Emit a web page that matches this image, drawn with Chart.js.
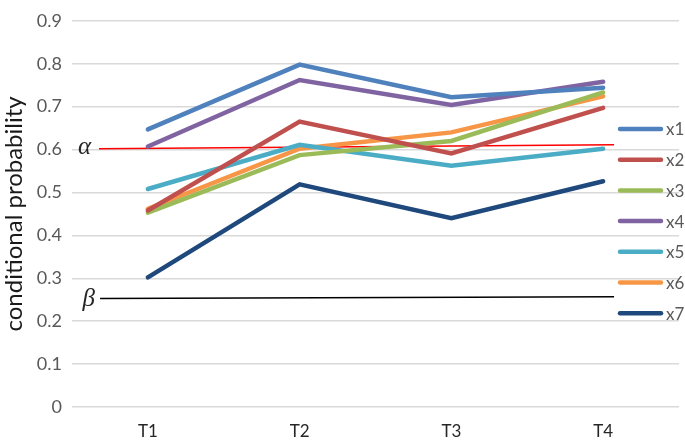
<!DOCTYPE html>
<html>
<head>
<meta charset="utf-8">
<script src="https://cdn.jsdelivr.net/npm/chart.js@4.4.1/dist/chart.umd.min.js"></script>
<style>
html,body{margin:0;padding:0;background:#fff;}
#wrap{width:685px;height:440px;position:relative;}
</style>
</head>
<body>
<div id="wrap"><canvas id="c" width="685" height="440"></canvas></div>
<script>
const categories = ['T1', 'T2', 'T3', 'T4'];
const seriesNames = ['x1', 'x2', 'x3', 'x4', 'x5', 'x6', 'x7'];
const x1 = [0.647, 0.798, 0.722, 0.744];
const x2 = [0.458, 0.665, 0.591, 0.697];
const x3 = [0.453, 0.587, 0.620, 0.733];
const x4 = [0.607, 0.762, 0.704, 0.758];
const x5 = [0.508, 0.611, 0.562, 0.602];
const x6 = [0.462, 0.602, 0.640, 0.724];
const x7 = [0.302, 0.519, 0.440, 0.526];
const yTicks = [0, 0.1, 0.2, 0.3, 0.4, 0.5, 0.6, 0.7, 0.8, 0.9];
// threshold lines (position along category index, value)
const alphaX = [-0.322, 3.072];
const alphaY = [0.602, 0.611];
const betaX = [-0.315, 3.072];
const betaY = [0.253, 0.257];
const thresholdLabels = ['\u03B1', '\u03B2'];

const colors = ['#4F81BD', '#C0504D', '#9BBB59', '#8064A2', '#4BACC6', '#F79646', '#1F497D'];
const allSeries = [x1, x2, x3, x4, x5, x6, x7];

const datasets = allSeries.map((d, i) => ({
  label: seriesNames[i],
  data: d,
  borderColor: colors[i],
  backgroundColor: colors[i],
  borderWidth: 4.5,
  pointRadius: 0,
  pointHoverRadius: 0,
  tension: 0,
  fill: false,
  xAxisID: 'x',
  borderCapStyle: 'round'
}));
datasets.push({
  label: 'alpha',
  data: alphaX.map((x, i) => ({x: x, y: alphaY[i]})),
  borderColor: '#FF0000',
  borderWidth: 1.5,
  pointRadius: 0,
  xAxisID: 'x2',
  fill: false
});
datasets.push({
  label: 'beta',
  data: betaX.map((x, i) => ({x: x, y: betaY[i]})),
  borderColor: '#000000',
  borderWidth: 1.5,
  pointRadius: 0,
  xAxisID: 'x2',
  fill: false
});

const customLegend = {
  id: 'customLegend',
  afterDraw(chart) {
    const ctx = chart.ctx;
    ctx.save();
    ctx.font = '17px Lato';
    ctx.textBaseline = 'middle';
    ctx.textAlign = 'left';
    for (let i = 0; i < seriesNames.length; i++) {
      const y = 129 + i * 30.7;
      ctx.strokeStyle = colors[i];
      ctx.lineWidth = 4.5;
      ctx.lineCap = 'round';
      ctx.beginPath();
      ctx.moveTo(620, y);
      ctx.lineTo(661, y);
      ctx.stroke();
      ctx.fillStyle = '#595959';
      ctx.fillText(seriesNames[i], 666, y + 1);
    }
    // threshold labels
    const xs = chart.scales.x2, ys = chart.scales.y;
    ctx.font = 'italic 25px "Liberation Serif"';
    ctx.fillStyle = '#262626';
    ctx.textAlign = 'right';
    ctx.fillText(thresholdLabels[0], xs.getPixelForValue(alphaX[0]) - 8, ys.getPixelForValue(alphaY[0]) - 1);
    ctx.fillText(thresholdLabels[1], xs.getPixelForValue(betaX[0]) - 5, ys.getPixelForValue(betaY[0]) + 1);
    ctx.restore();
  }
};

new Chart(document.getElementById('c'), {
  type: 'line',
  data: { labels: categories, datasets: datasets },
  plugins: [customLegend],
  options: {
    responsive: false,
    animation: false,
    events: [],
    layout: { padding: { top: 8, right: 6, left: 0, bottom: 0 } },
    plugins: { legend: { display: false }, tooltip: { enabled: false } },
    scales: {
      x: {
        type: 'category',
        offset: true,
        grid: { display: false, drawTicks: false },
        border: { display: false },
        ticks: { color: '#262626', font: { family: 'Lato', size: 17 }, padding: 14 },
        afterFit(s) { s.height = 33; }
      },
      x2: {
        type: 'linear',
        display: false,
        min: -0.5,
        max: 3.5
      },
      y: {
        min: 0,
        max: 0.9,
        afterBuildTicks(s) { s.ticks = yTicks.map(v => ({ value: v })); },
        grid: { color: '#D9D9D9', lineWidth: 1.5, drawTicks: false },
        border: { display: false },
        ticks: {
          color: '#595959',
          font: { family: 'Lato', size: 18 },
          padding: 10,
          callback: v => String(Math.round(v * 10) / 10)
        },
        title: {
          display: true,
          text: 'conditional probability',
          color: '#1a1a1a',
          font: { family: 'Lato', size: 24 },
          padding: 0
        },
        afterFit(s) { s.width = 72; }
      }
    }
  }
});
</script>
</body>
</html>
